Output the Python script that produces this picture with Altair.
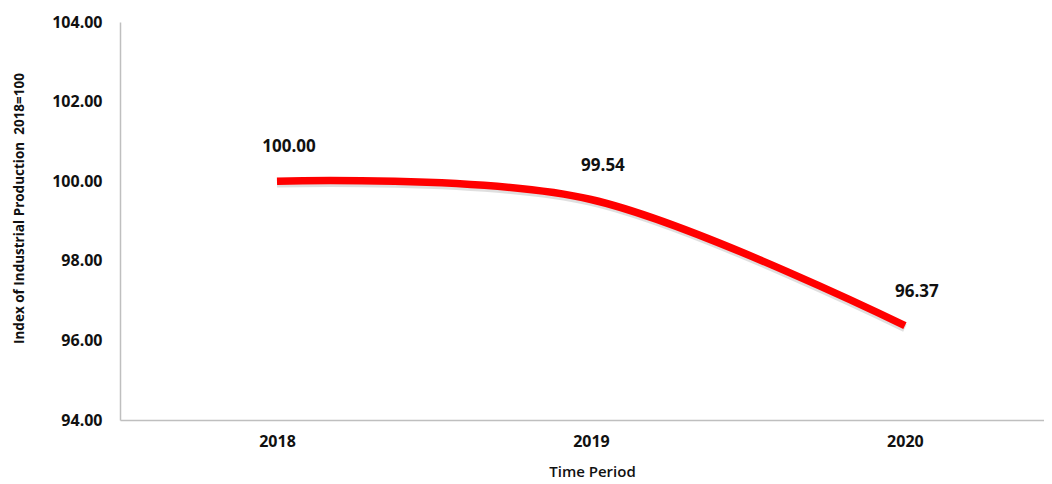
import altair as alt
import pandas as pd

years = [2018, 2019, 2020]
values = [100.00, 99.54, 96.37]
labels = ["100.00", "99.54", "96.37"]
y_ticks = [94, 96, 98, 100, 102, 104]

df = pd.DataFrame({"year": years, "value": values, "label": labels})

FONT = "Open Sans"

x = alt.X(
    "year:Q",
    scale=alt.Scale(domain=[2017.5, 2020.443], nice=False, zero=False),
    axis=alt.Axis(
        values=years, format="d", title="Time Period",
        grid=False, ticks=False, domainColor="#bfbfbf", domainWidth=1.5,
        labelFont=FONT, labelFontSize=16, labelFontWeight="bold", labelColor="#111111",
        labelPadding=13,
        titleFont=FONT, titleFontSize=15, titleFontWeight=600, titleColor="#111111",
        titleX=472, titleY=51, titleBaseline="middle", titleAnchor="middle",
    ),
)
y = alt.Y(
    "value:Q",
    scale=alt.Scale(domain=[94, 104], nice=False, zero=False),
    axis=alt.Axis(
        values=y_ticks, format=".2f", title="Index of Industrial Production\u00a0\u00a02018=100",
        grid=False, ticks=False, domainColor="#bfbfbf", domainWidth=1.5,
        labelFont=FONT, labelFontSize=16, labelFontWeight="bold", labelColor="#111111",
        labelPadding=18,
        titleFont=FONT, titleFontSize=13.5, titleFontWeight="bold", titleColor="#111111",
        titleX=-101, titleY=186, titleBaseline="middle", titleAnchor="middle",
    ),
)

shadow = alt.Chart(df).transform_calculate(
    v="datum.value - 0.06"
).mark_line(
    color="#808080", strokeWidth=8, interpolate="cardinal", strokeOpacity=0.25
).encode(x=x, y=alt.Y("v:Q"))

line = alt.Chart(df).mark_line(
    color="#ff0000", strokeWidth=7.5, interpolate="cardinal", strokeCap="butt"
).encode(x=x, y=y)

text = alt.Chart(df).mark_text(
    font=FONT, fontSize=17, fontWeight="bold", color="#111111", dx=12, dy=-34
).encode(x=alt.X("year:Q"), y=alt.Y("value:Q"), text="label:N")

chart = (shadow + line + text).properties(
    width=924, height=398,
    autosize=alt.AutoSizeParams(type="none"),
    padding={"left": 112, "top": 14, "right": 0, "bottom": 62},
).configure_view(stroke=None)

chart.save("out.html", embed_options={"renderer": "svg", "actions": False})
